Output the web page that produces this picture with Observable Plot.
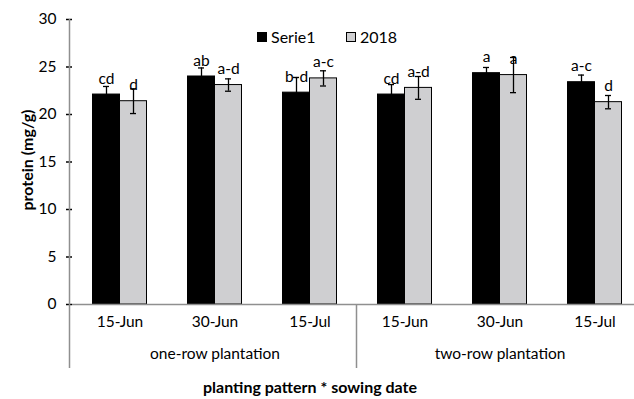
<!DOCTYPE html>
<html>
<head>
<meta charset="utf-8">
<script src="https://cdn.jsdelivr.net/npm/d3@7"></script>
<script src="https://cdn.jsdelivr.net/npm/@observablehq/plot@0.6"></script>
<style>
  html, body { margin: 0; padding: 0; background: #fff; }
  #chart { position: relative; width: 634px; height: 399px; overflow: hidden; font-family: Lato, "Open Sans", sans-serif; color: #000; }
  #chart svg { display: block; overflow: hidden; }
  #chart [aria-label="y-axis tick"], #chart [aria-label="y-axis"] line { stroke: #8f8f8f; stroke-width: 1.5; }
  .legend-item { position: absolute; display: flex; align-items: center; font-size: 16px; line-height: 18px; white-space: nowrap; }
  .legend-item .sw { width: 8px; height: 8px; border: 1px solid #000; margin-right: 4px; }
  .ylabel { position: absolute; font-size: 16px; font-weight: bold; white-space: nowrap; transform: translate(-50%, -50%) rotate(-90deg); }
  .xtitle { position: absolute; font-size: 16px; font-weight: bold; white-space: nowrap; line-height: 18px; transform: translateX(-50%); }
</style>
</head>
<body>
<div id="chart"></div>
<script>
// Protein content by planting pattern and sowing date
const patterns = ["one-row plantation", "two-row plantation"];
const dates = ["15-Jun", "30-Jun", "15-Jul"];
const series = ["Serie1", "2018"];
const seriesColors = ["#000000", "#cfcfd1"];

const serie1Protein = [22.1, 24.0, 22.3, 22.1, 24.35, 23.4];
const serie1Error = [0.85, 0.9, 1.6, 1.05, 0.6, 0.75];
const serie1Letters = ["cd", "ab", "b-d", "cd", "a", "a-c"];

const y2018Protein = [21.4, 23.1, 23.8, 22.8, 24.15, 21.3];
const y2018Error = [1.3, 0.65, 0.8, 1.2, 1.85, 0.7];
const y2018Letters = ["d", "a-d", "a-c", "a-d", "a", "d"];

const yTicks = [0, 5, 10, 15, 20, 25, 30];
const yLabel = "protein (mg/g)";
const xTitle = "planting pattern * sowing date";

// layout
const W = 634, H = 399;
const axisColor = "#8f8f8f";
const groupAxisBottom = 368;

const groups = patterns.flatMap(p => dates.map(d => ({pattern: p, date: d, key: p + "|" + d})));
const rows = groups.flatMap((g, i) => [
  {...g, series: series[0], value: serie1Protein[i], err: serie1Error[i], letter: serie1Letters[i]},
  {...g, series: series[1], value: y2018Protein[i], err: y2018Error[i], letter: y2018Letters[i]}
]);
// pattern labels sit under the middle sowing date of each pattern
const patternLabels = patterns.map(p => ({pattern: p, key: p + "|" + dates[1]}));

const chart = Plot.plot({
  width: W,
  height: H,
  marginTop: 19,
  marginBottom: 95,
  marginLeft: 69.5,
  marginRight: -9.5,
  style: {fontFamily: "Lato, 'Open Sans', sans-serif", fontSize: "15.5px", color: "#000", background: "transparent", overflow: "hidden"},
  fx: {domain: groups.map(g => g.key), padding: 0, axis: null, label: null},
  x: {domain: series, paddingInner: 0, paddingOuter: 0.74, axis: null, label: null},
  y: {domain: [0, 30], ticks: yTicks, tickSize: 6, tickPadding: 10, label: null, tickFormat: d => String(d)},
  color: {domain: series, range: seriesColors},
  marks: [
    Plot.barY(rows, {fx: "key", x: "series", y: "value", fill: "series", stroke: "#000", strokeWidth: 1}),
    Plot.ruleY([0], {stroke: axisColor, strokeWidth: 1.5}),
    Plot.ruleX(rows, {fx: "key", x: "series", y1: d => d.value - d.err, y2: d => d.value + d.err, stroke: "#000", strokeWidth: 1.3}),
    Plot.tickY(rows, {fx: "key", x: "series", y: d => d.value + d.err, insetLeft: 10.5, insetRight: 10.5, stroke: "#000", strokeWidth: 1.3}),
    Plot.tickY(rows, {fx: "key", x: "series", y: d => d.value - d.err, insetLeft: 10.5, insetRight: 10.5, stroke: "#000", strokeWidth: 1.3}),
    Plot.text(rows, {fx: "key", x: "series", y: "value", text: "letter", lineAnchor: "bottom", dy: -11, fill: "#000"}),
    Plot.text(groups, {fx: "key", text: "date", frameAnchor: "bottom", dy: 22, fill: "#000"}),
    Plot.text(patternLabels, {fx: "key", text: "pattern", frameAnchor: "bottom", dy: 54, fill: "#000"})
  ]
});

const root = document.getElementById("chart");
root.appendChild(chart);

// value axis spine and the group separators of the two-level category axis
const fxS = chart.scale("fx");
const yS = chart.scale("y");
const fxBand = d3.scaleBand(fxS.domain, fxS.range)
  .paddingInner(fxS.paddingInner ?? 0)
  .paddingOuter(fxS.paddingOuter ?? 0)
  .align(fxS.align ?? 0.5);
const yLin = d3.scaleLinear(yS.domain, yS.range);
const keys = groups.map(g => g.key);
const seps = patterns.map((p, i) => ({x: fxBand(keys[i * dates.length]), top: i === 0 ? yLin(yTicks[yTicks.length - 1]) : yLin(0)}));
seps.push({x: fxBand(keys[keys.length - 1]) + fxBand.bandwidth(), top: yLin(0)});
d3.select(chart).append("g")
  .attr("stroke", axisColor)
  .attr("stroke-width", 1.5)
  .selectAll("line")
  .data(seps)
  .join("line")
  .attr("x1", d => d.x).attr("x2", d => d.x)
  .attr("y1", d => d.top).attr("y2", groupAxisBottom);

// legend
const legendLeft = [257, 346];
series.forEach((s, i) => {
  const item = document.createElement("div");
  item.className = "legend-item";
  item.style.left = legendLeft[i] + "px";
  item.style.top = "28px";
  const sw = document.createElement("span");
  sw.className = "sw";
  sw.style.background = seriesColors[i];
  item.appendChild(sw);
  item.appendChild(document.createTextNode(s));
  root.appendChild(item);
});

// axis titles
const yl = document.createElement("div");
yl.className = "ylabel";
yl.textContent = yLabel;
yl.style.left = "26px";
yl.style.top = "160px";
root.appendChild(yl);

const xt = document.createElement("div");
xt.className = "xtitle";
xt.textContent = xTitle;
xt.style.left = "310px";
xt.style.top = "378px";
root.appendChild(xt);
</script>
</body>
</html>
